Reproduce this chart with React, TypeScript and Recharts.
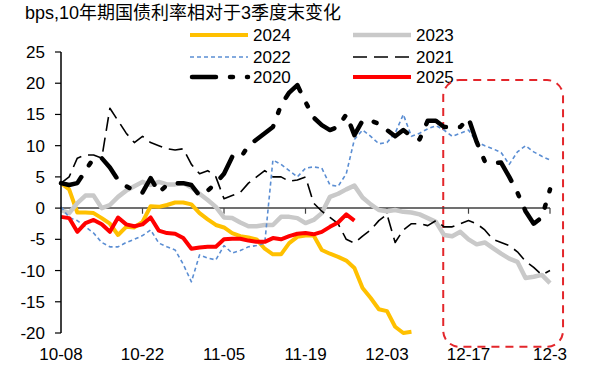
import React from 'react';
import { LineChart, Line, XAxis, YAxis, ReferenceLine, ReferenceArea } from 'recharts';

const titleText = 'bps,10年期国债利率相对于3季度末变化';
const tickLabels = ['10-08', '10-22', '11-05', '11-19', '12-03', '12-17', '12-3'];
const yTicks = [-20, -15, -10, -5, 0, 5, 10, 15, 20, 25];

const s2024 = [4, 3, -0.7, -0.7, -0.8, -1.6, -2.5, -4.3, -3, -3.1, -2.2, 0.3, 0.2, 0.5, 0.9, 0.9, 0.6, -0.8, -1.8, -2.7, -3.1, -4, -4.5, -4.7, -5, -6.5, -7.4, -7.4, -5.6, -4.6, -4.4, -4.4, -6.7, -7.3, -7.8, -8.4, -9.6, -12.8, -14.4, -16.2, -16.5, -19, -20, -19.8];
const s2023 = [-0.3, -0.8, 0.8, 2, 2, 0, 0.5, 1.8, 2.8, 3.5, 4.2, 3.7, 4.2, 3.8, 3.8, 4, 3.3, 2.3, 1.3, 0.2, -1.5, -1.6, -2.3, -2.9, -2.9, -2.7, -2.7, -1.4, -1.4, -1.6, -2.4, -1.9, -0.8, 1.8, 2.3, 3, 3.6, 1.7, 0.6, -0.3, -0.5, -0.3, -0.6, -0.7, -1, -1.6, -2.2, -4.3, -4.5, -3.8, -5, -5.8, -5.5, -6.4, -7.3, -8.1, -8.6, -11.2, -11, -10.7, -12];
const s2022 = [0.2, -1.5, -2, -3, -4, -5.5, -6.2, -6.2, -5.5, -5, -4.4, -3.5, -5.6, -6.2, -6.7, -9, -11.8, -7.5, -8, -8.3, -6, -7.2, -6.8, -6.2, -6, -5.6, 7.7, 7, 6, 5, 6.4, 6.6, 6.4, 3.7, 3.5, 5.5, 11, 12.5, 11.5, 10.3, 10.5, 12, 15, 11.5, 12, 12.7, 13.2, 12.5, 11.5, 12, 12.5, 10.6, 10, 9.5, 8.9, 7, 9, 10, 9, 8.3, 7.7];
const s2021 = [4, 5, 8, 8.5, 8.5, 8, 16, 14, 12, 10.5, 11.5, 10.5, 10, 9.5, 9.3, 9.5, 7, 5.5, 6, 5, 1.5, 2, 2.5, 4, 5, 6, 5, 5, 4.3, 4.5, 5, 0.8, -0.5, -1.5, -2.5, -5, -5.6, -4.5, -3.5, -2, -1, -5.5, -3.5, -2.5, -2.5, -2.8, -2, -3, -3, -2.5, -2, -2.5, -3.5, -5, -5.5, -6, -7, -8.5, -9.5, -10.7, -10];
const s2020 = [4, 3.7, 4, 6, 8, 8, 6.5, 4.5, 3.5, 2.8, 2.5, 4.8, 2.5, 3.7, 4, 4, 3.7, 2, 2.8, 4, 5.5, 8.2, 8, 10, 11, 12, 13, 16.5, 18.5, 19.7, 17, 14.5, 13.3, 12.5, 13, 15, 11.7, 14, 14, 13.5, 12.5, 11.5, 12.5, 11.5, 11, 14, 14, 13, 13, 13, 14.4, 10.6, 7.5, 7.2, 7.3, 5, 2.5, -0.5, -2.5, -1.5, 3];
const s2025 = [-1.4, -1.6, -3.8, -2.4, -1.9, -2.6, -3.8, -1.5, -2.6, -2.9, -2.6, -1.5, -3.6, -4, -4.1, -4.8, -6.5, -6.3, -6.2, -6.2, -5, -4.9, -4.9, -5.2, -5.4, -5.4, -4.8, -5, -4.5, -4.1, -4, -4.2, -3.8, -3, -2.3, -1, -2];

const seriesNames = ['2024', '2023', '2022', '2021', '2020', '2025'];
const seriesValues = [s2024, s2023, s2022, s2021, s2020, s2025];
const styles: Record<string, { color: string; width: number; dash?: string; cap?: 'round' | 'butt' }> = {
  '2024': { color: '#FFC000', width: 4 },
  '2023': { color: '#C9C9C9', width: 4.5 },
  '2022': { color: '#5B8ED3', width: 1.6, dash: '4 3' },
  '2021': { color: '#000000', width: 1.6, dash: '14 7' },
  '2020': { color: '#000000', width: 4.5, dash: '24 14 3 14', cap: 'round' },
  '2025': { color: '#FF0000', width: 4 },
};

const nDays = Math.max(...seriesValues.map((s) => s.length));
const rows = Array.from({ length: nDays }, (_, i) => {
  const r: Record<string, number | null> = { i };
  seriesNames.forEach((n, k) => {
    const v = seriesValues[k][i];
    r['y' + n] = v === undefined ? null : v;
  });
  return r;
});
const tickStep = (nDays - 1) / (tickLabels.length - 1);
const tickIdx = tickLabels.map((_, k) => k * tickStep);

const legendCols = [190, 353];
const legendRows = [35, 57, 77];

const font = '"Liberation Sans", Arial, "Noto Sans CJK SC", sans-serif';
const margin = { top: 52, right: 44, bottom: 0, left: 0 };
const yAxisWidth = 61;
const yTickSize = 6;
const yTickMargin = 10;

const HighlightBox = (p: any) => (
  <rect x={p.x} y={p.y} width={p.width} height={p.height} rx={16} ry={16} fill="none"
    stroke="#E3262B" strokeWidth={2} strokeDasharray="8 6" />
);

const YTick = (p: any) => (
  <text x={p.x} y={p.y} dy={6} textAnchor="end" fontSize={17} fill="#000" fontFamily={font}>
    {String(p.payload.value)}
  </text>
);

export default function App() {
  return (
    <div style={{ position: 'absolute', left: 0, top: 0, width: 594, height: 365, background: '#fff', fontFamily: font }}>
      <svg width={594} height={365} style={{ position: 'absolute', left: 0, top: 0, zIndex: 0 }}>
        <text x={25} y={19} fontSize={18} fill="#000" fontFamily={font}>{titleText}</text>
        {seriesNames.map((n, k) => {
          const st = styles[n];
          const x0 = legendCols[k % 2];
          const y0 = legendRows[Math.floor(k / 2)];
          return (
            <g key={n}>
              <line x1={x0 + (st.cap === 'round' ? 2 : 0)} x2={x0 + 58} y1={y0} y2={y0} stroke={st.color}
                strokeWidth={st.width} strokeDasharray={st.dash} strokeLinecap={st.cap || 'butt'} />
              <text x={x0 + 63} y={y0 + 6} fontSize={17} fill="#000" fontFamily={font}>{n}</text>
            </g>
          );
        })}
      </svg>
      <div style={{ position: 'absolute', left: 0, top: 0, zIndex: 1 }}>
        <LineChart width={594} height={365} data={rows} margin={margin}>
          <XAxis dataKey="i" type="number" domain={[0, nDays - 1]} ticks={tickIdx} height={32}
            tickFormatter={(v: number) => tickLabels[Math.round(v / tickStep)]}
            axisLine={false} tickLine={false} tickSize={0} tickMargin={15}
            tick={{ fontSize: 17, fill: '#000', fontFamily: font }} interval={0} />
          <YAxis type="number" domain={[-20, 25]} ticks={yTicks} width={yAxisWidth}
            axisLine={{ stroke: '#000', strokeWidth: 1.5 }} tickLine={{ stroke: '#000', strokeWidth: 1.2 }}
            tickSize={yTickSize} tickMargin={yTickMargin} interval={0} tick={YTick} />
          <ReferenceLine y={0} stroke="#404040" strokeWidth={1.5} />
          {tickIdx.slice(1).map((t) => (
            <ReferenceLine key={'t' + t} segment={[{ x: t, y: 0 }, { x: t, y: -0.9 }]} stroke="#404040" strokeWidth={1.2} />
          ))}
          {seriesNames.map((n) => {
            const st = styles[n];
            return (
              <Line key={n} dataKey={'y' + n} type="linear" stroke={st.color} strokeWidth={st.width}
                strokeDasharray={st.dash} strokeLinecap={st.cap || 'butt'} strokeLinejoin="round"
                dot={false} activeDot={false} isAnimationActive={false} />
            );
          })}
          <ReferenceArea x1={46.9} x2={61.6} y1={20.5} y2={-22.2} ifOverflow="visible" shape={HighlightBox} />
        </LineChart>
      </div>
    </div>
  );
}
